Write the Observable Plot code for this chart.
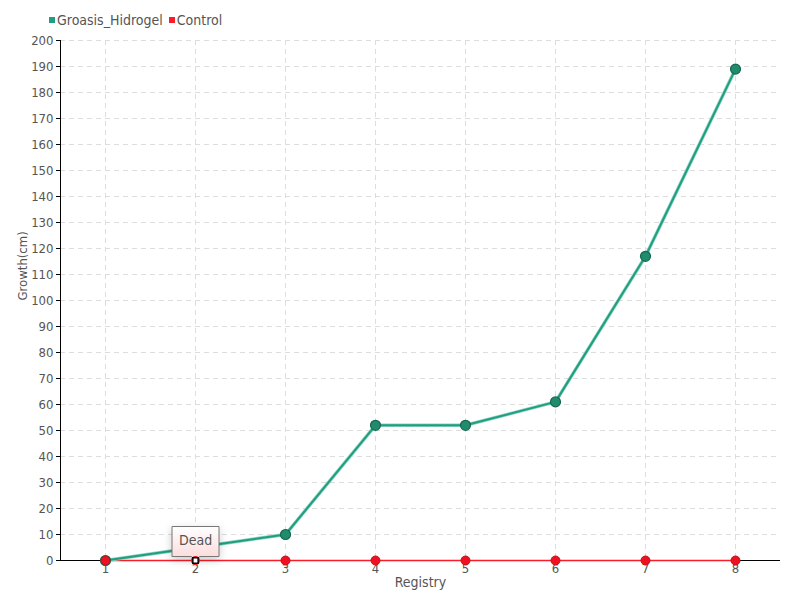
<!DOCTYPE html>
<html>
<head>
<meta charset="utf-8">
<script src="https://cdn.jsdelivr.net/npm/d3@7"></script>
<script src="https://cdn.jsdelivr.net/npm/@observablehq/plot@0.6"></script>
<style>
body { margin: 0; background: #fff; font-family: "DejaVu Sans Condensed", "Roboto", sans-serif; }
#wrap { position: relative; width: 800px; height: 600px; }
#legend { position: absolute; left: 49px; top: 12px; font-size: 14px; color: #555; display: flex; gap: 6px; align-items: center; }
#legend span.sw { display: inline-block; width: 6px; height: 6px; margin-right: 2px; vertical-align: middle; }
#legend .item { display: flex; align-items: center; }
</style>
</head>
<body>
<div id="wrap">
  <div id="legend"></div>
  <div id="chart"></div>
</div>
<script>
const registry = [1, 2, 3, 4, 5, 6, 7, 8];
const groasis = [0, 5, 10, 52, 52, 61, 117, 189];
const control = [0, 0, 0, 0, 0, 0, 0, 0];
const controlNotes = ["", "Dead", "", "", "", "", "", ""];
const seriesNames = ["Groasis_Hidrogel", "Control"];
const seriesColors = ["#1f9e80", "#ff1a2a"];
const yTicks = d3.range(0, 201, 10);

const gData = registry.map((r, i) => ({r, v: groasis[i]}));
const cData = registry.map((r, i) => ({r, v: control[i], note: controlNotes[i]}));
const cAlive = cData.filter(d => !d.note);
const cDead = cData.filter(d => d.note);

const legend = document.getElementById("legend");
seriesNames.forEach((n, i) => {
  const it = document.createElement("div");
  it.className = "item";
  it.innerHTML = `<span class="sw" style="background:${seriesColors[i]}"></span>${n}`;
  legend.appendChild(it);
});

const font = '"DejaVu Sans Condensed", Roboto, sans-serif';
const chart = Plot.plot({
  width: 800,
  height: 600,
  marginTop: 40,
  marginBottom: 40,
  marginLeft: 60,
  marginRight: 20,
  style: {fontFamily: font, fontSize: "13px", color: "#555", background: "white"},
  x: {type: "point", domain: registry, padding: 0.5, label: null},
  y: {domain: [0, 200], label: null},
  marks: [
    Plot.gridX(registry, {stroke: "#ddd", strokeOpacity: 1, strokeDasharray: "5,4"}),
    Plot.gridY(yTicks, {stroke: "#ddd", strokeOpacity: 1, strokeDasharray: "5,4"}),
    Plot.axisY({ticks: yTicks, tickSize: 4, tickPadding: 3, stroke: "#000", fill: "#555", fontSize: 13, label: null}),
    Plot.axisX({tickSize: 0, tickPadding: 3, fill: "#555", fontSize: 13, label: null}),
    Plot.frame({anchor: "left", stroke: "#000"}),
    Plot.ruleY([0], {stroke: "#000"}),
    Plot.line(cData, {x: "r", y: "v", stroke: seriesColors[1], strokeWidth: 1.5}),
    Plot.line(gData, {x: "r", y: "v", stroke: "#8fd3c2", strokeWidth: 3.5}),
    Plot.line(gData, {x: "r", y: "v", stroke: seriesColors[0], strokeWidth: 2}),
    Plot.dot(gData, {x: "r", y: "v", r: 5, fill: "#1f8c6e", stroke: "#17684f", strokeWidth: 1.2}),
    Plot.dot(cAlive, {x: "r", y: "v", r: 4.5, fill: "#ee1122", stroke: "#c80f1e", strokeWidth: 1}),
    Plot.tip(cDead, {x: "r", y: "v", title: "note", anchor: "bottom", pointerSize: 8, textPadding: 7, fill: "url(#tipgrad)", stroke: "#777", fontSize: 14, fontFamily: font, textAnchor: "middle"}),
    Plot.dot(cDead, {x: "r", y: "v", r: 4.5, fill: "#ee1122", stroke: "none"}),
    Plot.dot(cDead, {x: "r", y: "v", symbol: "square", r: 3, fill: "white", stroke: "#000", strokeWidth: 1.5}),
    Plot.text(["Registry"], {frameAnchor: "bottom", dy: 26, fill: "#555", fontSize: 14}),
    Plot.text(["Growth(cm)"], {frameAnchor: "left", dx: -38, rotate: -90, fill: "#555", fontSize: 13})
  ]
});

const ns = "http://www.w3.org/2000/svg";
const defs = document.createElementNS(ns, "defs");
defs.innerHTML = `<linearGradient id="tipgrad" x1="0" y1="0" x2="0" y2="1"><stop offset="0" stop-color="#ffffff"/><stop offset="1" stop-color="#fbd8d8"/></linearGradient>`;
chart.insertBefore(defs, chart.firstChild);
document.getElementById("chart").appendChild(chart);
</script>
</body>
</html>
